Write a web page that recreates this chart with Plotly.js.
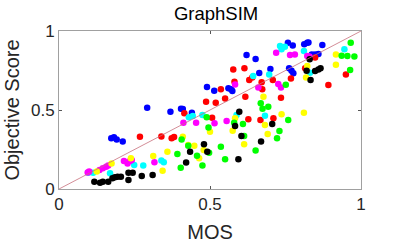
<!DOCTYPE html>
<html><head><meta charset="utf-8">
<script src="https://cdn.plot.ly/plotly-3.0.1.min.js"></script>
<style>html,body{margin:0;padding:0;background:#fff}#chart{width:399px;height:243px}</style>
</head><body><div id="chart"></div>
<script>
const blueX=[0.292,0.173,0.182,0.191,0.211,0.369,0.404,0.41,0.44,0.49,0.514,0.561,0.57,0.574,0.621,0.651,0.663,0.70,0.758,0.774,0.762,0.77,0.776,0.812,0.822,0.826,0.837,0.848,0.859,0.872];
const blueY=[0.515,0.321,0.327,0.314,0.300,0.489,0.508,0.506,0.483,0.646,0.622,0.637,0.631,0.620,0.848,0.823,0.734,0.759,0.926,0.909,0.764,0.749,0.732,0.916,0.926,0.928,0.852,0.852,0.854,0.911];
const redX=[0.268,0.339,0.373,0.381,0.415,0.487,0.507,0.519,0.536,0.55,0.577,0.581,0.614,0.617,0.627,0.63,0.64,0.667,0.671,0.673,0.708,0.71,0.735,0.768,0.815,0.848,0.892,0.95];
const redY=[0.331,0.333,0.321,0.329,0.479,0.553,0.451,0.546,0.631,0.572,0.757,0.679,0.764,0.584,0.441,0.69,0.705,0.437,0.675,0.631,0.69,0.447,0.578,0.70,0.764,0.833,0.658,0.724];
const cyanX=[0.097,0.113,0.169,0.249,0.279,0.339,0.347,0.43,0.443,0.475,0.588,0.643,0.696,0.682,0.732,0.737,0.748,0.811,0.831,0.945];
const cyanY=[0.103,0.103,0.099,0.152,0.148,0.181,0.169,0.454,0.462,0.468,0.468,0.715,0.724,0.464,0.905,0.884,0.901,0.873,0.736,0.884];
const magentaX=[0.095,0.10,0.134,0.145,0.156,0.163,0.215,0.227,0.235,0.241,0.316,0.412,0.454,0.515,0.555,0.583,0.66,0.719,0.726,0.735,0.765,0.781,0.822,0.829];
const magentaY=[0.105,0.110,0.12,0.131,0.141,0.148,0.177,0.162,0.177,0.184,0.169,0.42,0.42,0.416,0.43,0.662,0.643,0.863,0.665,0.643,0.848,0.852,0.842,0.838];
const yellowX=[0.125,0.174,0.238,0.312,0.343,0.359,0.41,0.428,0.448,0.464,0.479,0.50,0.575,0.583,0.613,0.682,0.677,0.691,0.737,0.811,0.818,0.822,0.917,0.917];
const yellowY=[0.11,0.162,0.194,0.209,0.116,0.236,0.331,0.278,0.274,0.194,0.247,0.363,0.369,0.447,0.283,0.405,0.584,0.348,0.473,0.483,0.705,0.778,0.852,0.787];
const greenX=[0.392,0.406,0.403,0.428,0.457,0.475,0.489,0.495,0.497,0.536,0.55,0.58,0.609,0.613,0.651,0.668,0.674,0.693,0.722,0.73,0.751,0.759,0.936,0.955,0.978,0.966,0.964];
const greenY=[0.222,0.314,0.135,0.274,0.211,0.148,0.454,0.39,0.230,0.268,0.188,0.42,0.411,0.335,0.243,0.542,0.508,0.521,0.321,0.367,0.66,0.437,0.844,0.842,0.838,0.926,0.753];
const blackX=[0.117,0.136,0.145,0.163,0.177,0.185,0.194,0.205,0.23,0.23,0.244,0.274,0.31,0.421,0.434,0.48,0.491,0.583,0.594,0.597,0.604,0.669,0.706,0.83,0.833,0.82,0.848,0.859,0.866];
const blackY=[0.046,0.040,0.046,0.046,0.068,0.074,0.078,0.078,0.057,0.103,0.103,0.082,0.089,0.167,0.236,0.283,0.236,0.399,0.188,0.489,0.335,0.30,0.411,0.821,0.69,0.749,0.747,0.757,0.764];
const diagX=[0,1];
const diagY=[0,1];
const tickVals=[0,0.5,1];
const tickText=['0','0.5','1'];

const series=[
 [blueX,blueY,'#0000ff'],
 [redX,redY,'#ff0000'],
 [cyanX,cyanY,'#00ffff'],
 [magentaX,magentaY,'#ff00ff'],
 [yellowX,yellowY,'#ffff00'],
 [greenX,greenY,'#00ff00'],
 [blackX,blackY,'#000000']
];
const traces=series.map(s=>({x:s[0],y:s[1],mode:'markers',type:'scatter',
  marker:{color:s[2],size:6.5,line:{width:0}},hoverinfo:'none',cliponaxis:false}));
traces.push({x:diagX,y:diagY,mode:'lines',type:'scatter',line:{color:'#c8707c',width:0.8},hoverinfo:'none'});

const font='"Liberation Sans", Arial, sans-serif';
const axisCommon={range:[0,1],tickvals:tickVals,ticktext:tickText,ticks:'inside',ticklen:3,tickcolor:'#555',
  showline:true,mirror:'ticks',linecolor:'#a0a0a0',linewidth:1,showgrid:false,zeroline:false,
  tickfont:{family:font,size:17,color:'#262626'}};
const layout={width:399,height:243,margin:{l:59,r:38,t:31,b:54},showlegend:false,
  paper_bgcolor:'#fff',plot_bgcolor:'#fff',
  title:{text:'GraphSIM',font:{family:font,size:18.5,color:'#000'},xref:'paper',x:0.52,xanchor:'center',yref:'container',y:0.972,yanchor:'top'},
  xaxis:Object.assign({},axisCommon,{title:{text:'MOS',font:{family:font,size:20,color:'#262626'},standoff:11}}),
  yaxis:Object.assign({},axisCommon,{title:{text:'Objective Score',font:{family:font,size:20,color:'#262626'},standoff:5}})
};
Plotly.newPlot('chart',traces,layout,{staticPlot:true,displayModeBar:false});
</script></body></html>
